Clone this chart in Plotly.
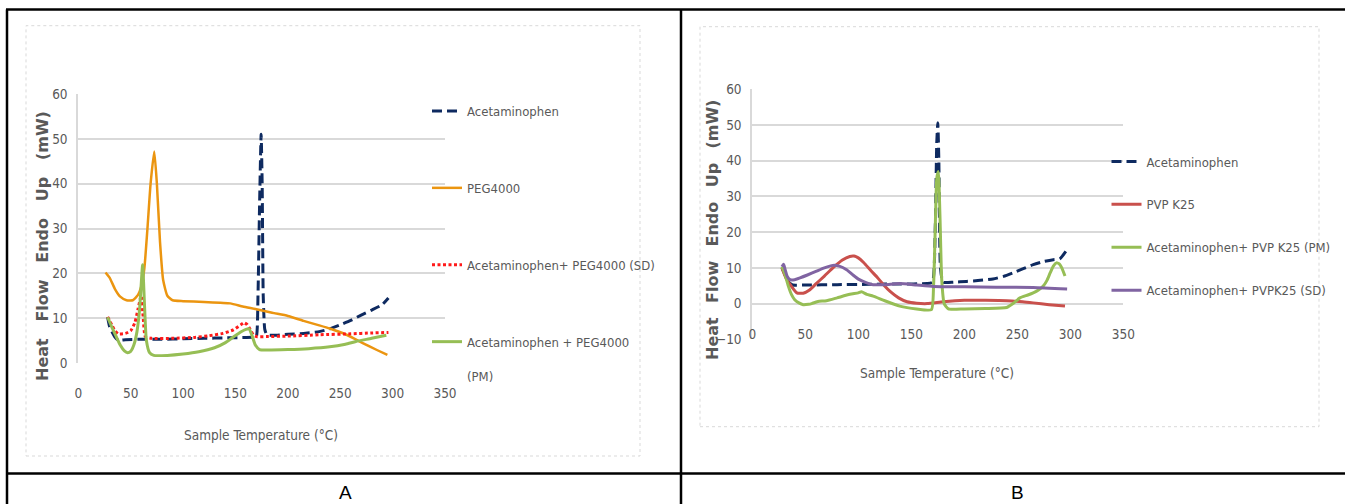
import plotly.graph_objects as go

W, H = 1345, 504

# ---------------- Data: chart A (PEG4000) ----------------
a_acet_x = [28, 30, 35, 38, 45, 60, 80, 100, 120, 140, 160, 168, 170, 171.5, 173, 174.5, 175.5, 176.5, 178, 180, 190, 200, 215, 230, 240, 250, 260, 270, 280, 290, 296]
a_acet_y = [10.2, 8, 5.8, 5.1, 5.2, 5.3, 5.3, 5.4, 5.5, 5.6, 5.7, 5.8, 6, 15, 35, 51, 40, 15, 7.5, 6.3, 6.2, 6.4, 6.6, 7.0, 7.6, 8.5, 9.5, 10.7, 11.8, 13, 14.5]

a_peg_x = [26, 30, 35, 40, 46, 52, 57, 60, 63, 66, 69, 72.5, 75, 78, 81, 85, 90, 100, 120, 145, 157, 170, 185, 200, 215, 230, 240, 256, 272, 285, 295]
a_peg_y = [20.2, 19, 16.5, 14.8, 14.0, 14.0, 15.2, 17, 21, 30, 40, 47.2, 40, 27, 18.5, 15, 14.0, 13.8, 13.6, 13.3, 12.6, 12.0, 11.2, 10.5, 9.4, 8.4, 7.7, 6.3, 4.4, 2.9, 1.8]

a_sd_x = [28, 32, 35, 38, 45, 50, 54, 57, 60, 62, 64, 70, 90, 110, 125, 138, 148, 155, 158, 161, 164, 167, 170, 180, 200, 230, 260, 280, 296]
a_sd_y = [10.3, 8.5, 7.2, 6.5, 6.6, 7.2, 9, 12, 15, 10, 5.9, 5.5, 5.5, 5.7, 6.1, 6.6, 7.4, 8.5, 9, 8.6, 7.5, 6.3, 5.9, 5.9, 6.0, 6.3, 6.5, 6.7, 6.8]

a_pm_x = [28, 32, 36, 40, 44, 47, 50, 53, 56, 58.5, 61.4, 63, 65, 68, 72, 85, 100, 115, 130, 140, 148, 155, 160, 163, 166, 169, 173, 180, 200, 220, 240, 255, 265, 280, 294]
a_pm_y = [10.2, 8, 6, 4, 2.7, 2.3, 2.6, 4, 7, 12, 21.9, 14, 5, 2.3, 1.7, 1.7, 2.0, 2.5, 3.4, 4.5, 5.8, 6.9, 7.5, 7.6, 6, 4, 3.0, 2.9, 3.0, 3.2, 3.6, 4.2, 4.8, 5.5, 6.2]

# ---------------- Data: chart B (PVP K25) ----------------
b_acet_x = [28, 31, 35, 38, 50, 80, 110, 140, 165, 170, 172.5, 174, 175, 176, 177.5, 180, 190, 202, 215, 227, 237, 246, 255, 265, 275, 284, 290, 297]
b_acet_y = [10, 8, 5.8, 5.2, 5.2, 5.3, 5.4, 5.5, 5.6, 6, 20, 45, 50.6, 40, 10, 6, 6.0, 6.2, 6.5, 6.9, 7.6, 8.6, 9.7, 10.9, 11.8, 12.3, 12.5, 15.1]

b_pvp_x = [28, 32, 36, 42, 48, 54, 60, 68, 76, 85, 92, 96, 100, 105, 112, 118, 124, 130, 138, 146, 155, 165, 180, 200, 220, 240, 255, 265, 280, 295]
b_pvp_y = [10, 7, 5.2, 3.0, 2.9, 3.8, 5.5, 7.7, 10, 12.2, 13.2, 13.3, 12.8, 11.5, 9.2, 7.3, 5.2, 3.4, 1.6, 0.5, 0.1, 0.0, 0.5, 0.9, 0.9, 0.8, 0.5, 0.2, -0.3, -0.7]

b_pm_x = [28, 31, 34, 37, 40, 44, 48, 53, 56, 59, 62, 70, 80, 92, 100, 103, 108, 114, 125, 139, 155, 169, 171, 172.5, 174, 175.5, 177, 178.7, 181, 185, 200, 220, 240, 246, 252.5, 260, 265, 270, 274.5, 278, 281, 284, 287, 290, 292, 295]
b_pm_y = [10.3, 8, 4.9, 2.5, 1.1, 0.2, -0.3, -0.2, 0, 0.3, 0.6, 0.8, 1.6, 2.6, 3.0, 3.3, 2.6, 2.1, 0.8, -0.7, -1.5, -1.7, 5, 20, 35, 37, 25, 6.7, 0, -1.5, -1.5, -1.4, -1.1, 0, 1.6, 2.4, 3.0, 3.8, 4.9, 6.5, 8.6, 10.5, 11.4, 11.0, 10, 7.7]

b_sd_x = [28, 29.5, 31, 33, 35.6, 40, 45, 52, 60, 68, 76, 82, 89, 95, 101, 108, 114, 125, 139, 155, 171, 200, 230, 265, 297]
b_sd_y = [10.3, 11, 9.5, 7.6, 6.7, 6.7, 7.2, 8, 9, 10, 10.7, 10.5, 9.5, 8, 6.7, 5.8, 5.3, 5.3, 5.6, 5.2, 4.8, 4.7, 4.6, 4.5, 4.1]

x_ticks = [0, 50, 100, 150, 200, 250, 300, 350]
a_y_ticks = [0, 10, 20, 30, 40, 50, 60]
b_y_ticks = [-10, 0, 10, 20, 30, 40, 50, 60]

names_a = ["Acetaminophen", "PEG4000", "Acetaminophen+ PEG4000 (SD)", "Acetaminophen + PEG4000<br><br>(PM)"]
names_b = ["Acetaminophen", "PVP K25", "Acetaminophen+ PVP K25 (PM)", "Acetaminophen+ PVPK25 (SD)"]
panel_labels = ["A", "B"]

# ---------------- Styling ----------------
NARROW = "DejaVu Sans Condensed, Liberation Sans Narrow, Roboto, sans-serif"
GRAY = "#595959"
GRID = "#D9D9D9"
NAVY = "#0E2A60"
ORANGE = "#EB9510"
RED_DOT = "#FF1A1A"
GREEN = "#96BE55"
RED = "#C9504C"
PURPLE = "#8064A2"


def fx(px):
    return px / W


def fy(py):
    return 1 - py / H


fig = go.Figure()

smooth = dict(shape="spline", smoothing=0.5)

fig.add_trace(go.Scatter(x=a_acet_x, y=a_acet_y, name=names_a[0], mode="lines", xaxis="x", yaxis="y",
                         line=dict(color=NAVY, width=3, dash="10px,5px", **smooth), legend="legend", legendgroup="a1"))
fig.add_trace(go.Scatter(x=a_peg_x, y=a_peg_y, name=names_a[1], mode="lines", xaxis="x", yaxis="y",
                         line=dict(color=ORANGE, width=2.5, **smooth), legend="legend", legendgroup="a2"))
fig.add_trace(go.Scatter(x=a_sd_x, y=a_sd_y, name=names_a[2], mode="lines", xaxis="x", yaxis="y",
                         line=dict(color=RED_DOT, width=3, dash="3px,2.5px", **smooth), legend="legend", legendgroup="a3"))
fig.add_trace(go.Scatter(x=a_pm_x, y=a_pm_y, name=names_a[3], mode="lines", xaxis="x", yaxis="y",
                         line=dict(color=GREEN, width=3, **smooth), legend="legend", legendgroup="a4"))

fig.add_trace(go.Scatter(x=b_acet_x, y=b_acet_y, name=names_b[0], mode="lines", xaxis="x2", yaxis="y2",
                         line=dict(color=NAVY, width=3, dash="10px,5px", **smooth), legend="legend2", legendgroup="b1"))
fig.add_trace(go.Scatter(x=b_pvp_x, y=b_pvp_y, name=names_b[1], mode="lines", xaxis="x2", yaxis="y2",
                         line=dict(color=RED, width=3, **smooth), legend="legend2", legendgroup="b2"))
fig.add_trace(go.Scatter(x=b_pm_x, y=b_pm_y, name=names_b[2], mode="lines", xaxis="x2", yaxis="y2",
                         line=dict(color=GREEN, width=3, **smooth), legend="legend2", legendgroup="b3"))
fig.add_trace(go.Scatter(x=b_sd_x, y=b_sd_y, name=names_b[3], mode="lines", xaxis="x2", yaxis="y2",
                         line=dict(color=PURPLE, width=3, **smooth), legend="legend2", legendgroup="b4"))

tickfont = dict(family=NARROW, size=13.5, color=GRAY)
legfont = dict(family=NARROW, size=13, color=GRAY)

xa_dom = [fx(78.3), fx(445)]
ya_dom = [fy(363), fy(94)]
xb_dom = [fx(752.3), fx(1123.3)]
yb_dom = [fy(339.3), fy(89.3)]

fig.update_layout(
    width=W, height=H,
    margin=dict(l=0, r=0, t=0, b=0, pad=0, autoexpand=False),
    paper_bgcolor="white", plot_bgcolor="white",
    xaxis=dict(domain=xa_dom, anchor="y", range=[0, 350], tickvals=x_ticks, showgrid=False, zeroline=False,
               showline=False, ticks="outside", ticklen=18, tickcolor="rgba(0,0,0,0)", tickfont=tickfont,
               automargin=False),
    yaxis=dict(domain=ya_dom, anchor="x", range=[0, 60], tickvals=a_y_ticks, showgrid=True, gridcolor=GRID,
               gridwidth=2, zeroline=False, showline=True, linecolor=GRID, linewidth=2,
               ticks="outside", ticklen=6, tickcolor="rgba(0,0,0,0)", tickfont=tickfont, automargin=False),
    xaxis2=dict(domain=xb_dom, anchor="y2", range=[0, 350], tickvals=x_ticks, showgrid=False, zeroline=False,
                showline=False, showticklabels=False, automargin=False),
    xaxis3=dict(domain=xb_dom, anchor="free", overlaying="x2", position=fy(324), range=[0, 350],
                tickvals=x_ticks, showgrid=False, zeroline=False, showline=False, ticks="", tickfont=tickfont,
                automargin=False),
    yaxis2=dict(domain=yb_dom, anchor="x2", range=[-10, 60], tickvals=b_y_ticks, showgrid=True, gridcolor=GRID,
                gridwidth=2, zeroline=False, showline=True, linecolor=GRID, linewidth=2,
                ticks="outside", ticklen=6, tickcolor="rgba(0,0,0,0)", tickfont=tickfont, automargin=False),
    legend=dict(x=fx(427), y=fy(96), xanchor="left", yanchor="top", bgcolor="rgba(0,0,0,0)",
                font=legfont, traceorder="grouped", tracegroupgap=57, valign="top", itemwidth=30),
    legend2=dict(x=fx(1106.5), y=fy(146.5), xanchor="left", yanchor="top", bgcolor="rgba(0,0,0,0)",
                 font=legfont, traceorder="grouped", tracegroupgap=23, valign="top", itemwidth=30),
    showlegend=True,
)

# empty trace so the free tick-label axis for chart B is drawn
fig.add_trace(go.Scatter(x=[None], y=[None], xaxis="x3", yaxis="y2", showlegend=False, hoverinfo="skip"))

shapes = []
shapes.append(dict(type="rect", xref="paper", yref="paper", x0=fx(26), x1=fx(640), y0=fy(456), y1=fy(25.7),
                   line=dict(color=GRID, width=1, dash="dot"), layer="below"))
shapes.append(dict(type="rect", xref="paper", yref="paper", x0=fx(700), x1=fx(1319), y0=fy(426.7), y1=fy(26.7),
                   line=dict(color=GRID, width=1, dash="dot"), layer="below"))
for (x0, y0, x1, y1) in [(6, 9.5, W, 9.5), (7, 9.5, 7, H), (681, 9.5, 681, H), (6, 473.5, W, 473.5)]:
    shapes.append(dict(type="line", xref="paper", yref="paper", x0=fx(x0), x1=fx(x1), y0=fy(y0), y1=fy(y1),
                       line=dict(color="black", width=2.5)))
fig.update_layout(shapes=shapes)

title_font = dict(family="DejaVu Sans", size=16, color=GRAY, weight="bold")
sp3 = "\u00a0\u00a0\u00a0"
spb = "\u00a0\u00a0\u2009"
annotations = [
    dict(text=sp3.join(["Heat", "Flow", "Endo", "Up", "(mW)"]), x=fx(42), y=fy(246), xref="paper", yref="paper",
         textangle=-90, showarrow=False, font=title_font, xanchor="center", yanchor="middle"),
    dict(text=spb.join(["Heat", "Flow", "Endo", "Up", "(mW)"]), x=fx(713), y=fy(230), xref="paper", yref="paper",
         textangle=-90, showarrow=False, font=title_font, xanchor="center", yanchor="middle"),
    dict(text="Sample Temperature (°C)", x=fx(261), y=fy(435), xref="paper", yref="paper", showarrow=False,
         font=dict(family=NARROW, size=13.5, color=GRAY), xanchor="center", yanchor="middle"),
    dict(text="Sample Temperature (°C)", x=fx(937), y=fy(373), xref="paper", yref="paper", showarrow=False,
         font=dict(family=NARROW, size=13.5, color=GRAY), xanchor="center", yanchor="middle"),
    dict(text=panel_labels[0], x=fx(345), y=fy(492), xref="paper", yref="paper", showarrow=False,
         font=dict(family="Liberation Sans", size=19, color="black"), xanchor="center", yanchor="middle"),
    dict(text=panel_labels[1], x=fx(1018), y=fy(492), xref="paper", yref="paper", showarrow=False,
         font=dict(family="Liberation Sans", size=19, color="black"), xanchor="center", yanchor="middle"),
]
fig.update_layout(annotations=annotations)

fig.write_html("out.html", post_script="document.body.style.margin='0';")
